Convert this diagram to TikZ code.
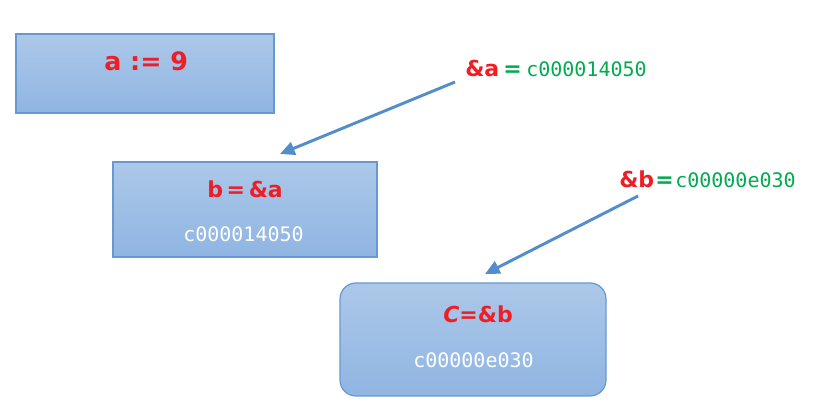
\documentclass[tikz,border=0pt]{standalone}
\usepackage{fontspec}
\usepackage{tikz}
\usetikzlibrary{positioning, arrows.meta}
\newfontfamily\codefont{DejaVu Sans Mono}
\newfontfamily\handfont{DejaVu Sans}
\definecolor{boxtop}{RGB}{172,200,233}
\definecolor{boxbot}{RGB}{143,181,226}
\definecolor{boxline}{RGB}{104,152,208}
\definecolor{arrowblue}{RGB}{84,141,204}
\definecolor{valred}{RGB}{240,30,36}
\definecolor{addrgreen}{RGB}{0,172,80}

\begin{document}
\begin{tikzpicture}[x=0.75pt, y=-0.75pt,
        varbox/.style={draw=boxline, line width=0.9pt, top color=boxtop, bottom color=boxbot, inner sep=0pt},
        redtext/.style={text=valred, inner sep=0pt, anchor=base west, font=\handfont\bfseries\fontsize{16.5}{18}\selectfont},
        addrtext/.style={inner sep=0pt, anchor=base west, font=\codefont\fontsize{15}{17}\selectfont},
        pointer/.style={draw=arrowblue, line width=2.2pt, -{Triangle[length=11pt, width=10pt]}}]
        \useasboundingbox (0,0) rectangle (829,416);
        % boxes
        \node[varbox, minimum width=193.5pt, minimum height=59.25pt] (boxa) at (145,73.5) {};
        \node[varbox, minimum width=198pt, minimum height=71.25pt] (boxb) at (245,209.5) {};
        \node[varbox, rounded corners=12pt, minimum width=199.5pt, minimum height=84.75pt] (boxc) at (473,339.5) {};
        % contents
        \node[redtext, font=\handfont\bfseries\fontsize{19}{21}\selectfont] (vala) at (104,71) {a := 9};
        \node[redtext] (valb) at (207,198) {b\,=\,\&a};
        \node[addrtext, text=white] (adrb) at (183,242) {c000014050};
        \node[redtext] (valc) at (443,323) {\textit{C}=\&b};
        \node[addrtext, text=white] (adrc) at (413,368) {c00000e030};
        % addresses
        \node[redtext] (refa) at (465,77) {\&a};
        \node[redtext, text=addrgreen] (eqa) at (503,77) {=};
        \node[addrtext, text=addrgreen] (hexa) at (526,77) {c000014050};
        \node[redtext] (refb) at (619,188) {\&b};
        \node[redtext, text=addrgreen, right=0.5pt of refb.base east, anchor=base west] (eqb) {=};
        \node[addrtext, text=addrgreen] (hexb) at (675,188) {c00000e030};
        % pointers
        \coordinate (taila) at (455,82);
        \coordinate (heada) at (280,154);
        \coordinate (tailb) at (638,196);
        \coordinate (headb) at (485,274);
        \draw[pointer] (taila) -- (heada);
        \draw[pointer] (tailb) -- (headb);
    \end{tikzpicture}
\end{document}
